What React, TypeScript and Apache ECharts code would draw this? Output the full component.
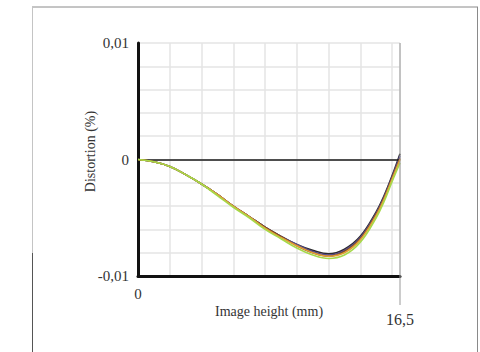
import React, { useEffect, useRef } from "react";
import * as echarts from "echarts";

const imageHeights = [0, 1, 2, 3, 4, 5, 6, 7, 8, 9, 10, 11, 12, 13, 14, 15, 15.5, 16, 16.5];

const seriesGreen = [0, -0.0002, -0.0006, -0.0013, -0.0021, -0.0031, -0.0041, -0.005, -0.006, -0.0068, -0.0076, -0.0082, -0.0085, -0.0082, -0.0071, -0.005, -0.0036, -0.0019, -0.0003];
const seriesOrange = [0, -0.0002, -0.0006, -0.0013, -0.0021, -0.003, -0.004, -0.0049, -0.0059, -0.0067, -0.0074, -0.008, -0.0083, -0.008, -0.0069, -0.0048, -0.0034, -0.0017, 0];
const seriesBrown = [0, -0.0002, -0.0006, -0.0013, -0.0021, -0.003, -0.004, -0.0049, -0.0058, -0.0066, -0.0074, -0.008, -0.0083, -0.0079, -0.0068, -0.0047, -0.0033, -0.0016, 0.0001];
const seriesPurple = [0, -0.0002, -0.0006, -0.0013, -0.0021, -0.003, -0.004, -0.0049, -0.0058, -0.0066, -0.0073, -0.0079, -0.0082, -0.0078, -0.0067, -0.0046, -0.0032, -0.0015, 0.0003];
const seriesDark = [0, -0.0002, -0.0006, -0.0013, -0.0021, -0.003, -0.004, -0.0049, -0.0058, -0.0066, -0.0073, -0.0078, -0.0081, -0.0077, -0.0066, -0.0045, -0.0031, -0.0014, 0.0005];

const seriesList = [
  { name: "E", values: seriesDark, color: "#2b2b2b" },
  { name: "D", values: seriesPurple, color: "#5b4b8f" },
  { name: "C", values: seriesBrown, color: "#7a4a26" },
  { name: "B", values: seriesOrange, color: "#e3a035" },
  { name: "A", values: seriesGreen, color: "#a6d94a" },
];

const X_MIN = 0;
const X_MAX = 16.5;
const Y_MIN = -0.01;
const Y_MAX = 0.01;

const xLabel = (v: number) => (Math.abs(v - X_MIN) < 1e-9 ? "{a|0}" : Math.abs(v - X_MAX) < 1e-9 ? "{b|16,5}" : "");
const yLabel = (v: number) =>
  Math.abs(v - Y_MAX) < 1e-9 ? "0,01" : Math.abs(v) < 1e-9 ? "0" : Math.abs(v - Y_MIN) < 1e-9 ? "-0,01" : "";

export default function App() {
  const ref = useRef<HTMLDivElement>(null);
  useEffect(() => {
    if (!ref.current) return;
    const chart = echarts.init(ref.current, null, { renderer: "svg" });
    const font = "'Liberation Serif', 'DejaVu Serif', serif";
    chart.setOption({
      animation: false,
      backgroundColor: "#ffffff",
      textStyle: { fontFamily: font },
      grid: { left: 138, right: 80, top: 43, bottom: 76, containLabel: false },
      xAxis: {
        type: "value",
        min: X_MIN,
        max: X_MAX,
        interval: 2,
        name: "Image height (mm)",
        nameLocation: "middle",
        nameGap: 28,
        nameMoveOverlap: false,
        nameTextStyle: { fontFamily: font, fontSize: 14, color: "#333" },
        axisLine: { show: true, onZero: false, lineStyle: { color: "#111", width: 3 } },
        axisTick: { show: false },
        axisLabel: {
          formatter: xLabel,
          margin: 10,
          fontFamily: font,
          rich: {
            a: { fontFamily: font, fontSize: 15, color: "#333" },
            b: { fontFamily: font, fontSize: 16, color: "#333", padding: [25, 0, 0, 0] },
          },
        },
        splitLine: { show: true, lineStyle: { color: "#e4e4e4", width: 1.5 } },
      },
      yAxis: {
        type: "value",
        min: Y_MIN,
        max: Y_MAX,
        interval: 0.002,
        name: "Distortion (%)",
        nameLocation: "middle",
        nameGap: 41,
        nameMoveOverlap: false,
        nameTextStyle: { fontFamily: font, fontSize: 14, color: "#333", padding: [0, 0, 0, 16] },
        axisLine: { show: true, onZero: false, lineStyle: { color: "#111", width: 3 } },
        axisTick: { show: false },
        axisLabel: { formatter: yLabel, fontFamily: font, fontSize: 15, color: "#333", margin: 9 },
        splitLine: { show: true, lineStyle: { color: "#e4e4e4", width: 1.5 } },
      },
      series: seriesList.map((s, i) => ({
        name: s.name,
        type: "line",
        smooth: 0.4,
        showSymbol: false,
        symbol: "none",
        data: imageHeights.map((x, k) => [x, s.values[k]]),
        lineStyle: { color: s.color, width: 1.6 },
        z: 3 + i,
        markLine:
          i === 0
            ? {
                silent: true,
                symbol: ["none", "none"],
                label: { show: false },
                lineStyle: { color: "#1a1a1a", width: 1.5, type: "solid" },
                data: [{ yAxis: 0 }],
              }
            : undefined,
      })),
    });
    const bottomRight = chart.convertToPixel({ gridIndex: 0 }, [X_MAX, Y_MIN]) as number[];
    const topRight = chart.convertToPixel({ gridIndex: 0 }, [X_MAX, Y_MAX]) as number[];
    chart.setOption({
      graphic: [
        { type: "line", shape: { x1: 32, y1: 7, x2: 478, y2: 7 }, style: { stroke: "#8a8a8a", lineWidth: 1 } },
        { type: "line", shape: { x1: 477.5, y1: 7, x2: 477.5, y2: 352 }, style: { stroke: "#8a8a8a", lineWidth: 1 } },
        { type: "line", shape: { x1: 32.5, y1: 7, x2: 32.5, y2: 253 }, style: { stroke: "#c4c4c4", lineWidth: 1 } },
        { type: "line", shape: { x1: 32.5, y1: 253, x2: 32.5, y2: 352 }, style: { stroke: "#555", lineWidth: 1 } },
        {
          type: "line",
          z: 10,
          shape: { x1: topRight[0], y1: topRight[1], x2: bottomRight[0], y2: bottomRight[1] + 29 },
          style: { stroke: "#9a9a9a", lineWidth: 1 },
        },
      ],
    });
    return () => chart.dispose();
  }, []);
  return <div ref={ref} style={{ position: "fixed", left: 0, top: 0, width: 480, height: 352 }} />;
}
